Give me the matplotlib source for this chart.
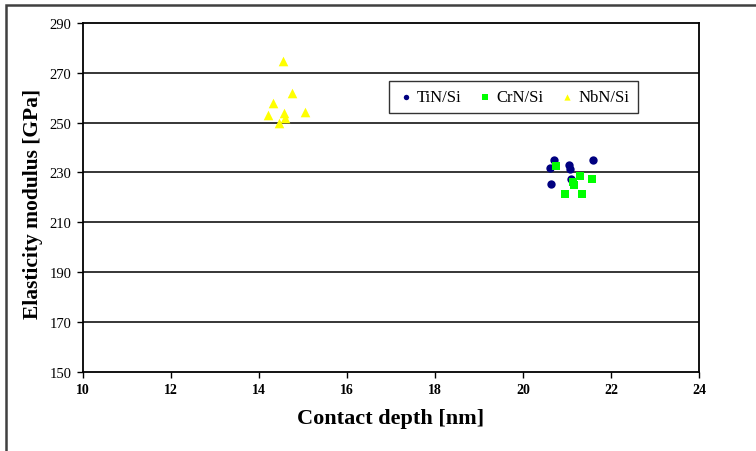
import matplotlib
matplotlib.use("Agg")
import matplotlib.pyplot as plt
from matplotlib.patches import Rectangle

# values
tin_depth = [20.71, 20.62, 21.05, 21.07, 21.59, 20.64, 21.10]
tin_modulus = [235.0, 231.6, 233.0, 231.5, 234.9, 225.2, 227.3]

crn_depth = [20.75, 21.29, 21.58, 21.14, 21.17, 20.95, 21.35]
crn_modulus = [232.6, 228.6, 227.5, 226.1, 224.9, 221.3, 221.3]

nbn_depth = [14.56, 14.75, 14.33, 14.20, 14.58, 14.60, 15.06, 14.46]
nbn_modulus = [274.9, 261.7, 258.0, 252.9, 253.9, 251.9, 254.2, 250.0]

x_ticks = [10, 12, 14, 16, 18, 20, 22, 24]
y_ticks = [150, 170, 190, 210, 230, 250, 270, 290]

plt.rcParams['font.family'] = ['Liberation Serif', 'DejaVu Serif']

fig = plt.figure(figsize=(7.56, 4.52), dpi=100, facecolor='white')
ax = fig.add_axes([82.7 / 756, 1 - 372.7 / 452, (699 - 82.7) / 756, (372.7 - 24) / 452])

# outer frame of the figure (open at right and bottom in the crop)
fig.add_artist(Rectangle((5.5 / 756, -0.1), 1.2, 1 - 6 / 452 + 0.1,
                         transform=fig.transFigure, fill=False,
                         edgecolor='#404040', linewidth=1.8))

for y in y_ticks[1:-1]:
    ax.axhline(y, color='black', linewidth=1.1, zorder=1)

ax.scatter(tin_depth, tin_modulus, marker='o', s=36, color='#000080',
           linewidths=0, label='TiN/Si', zorder=3)
ax.scatter(crn_depth, crn_modulus, marker='s', s=36, color='#00ff00',
           linewidths=0, label='CrN/Si', zorder=3)
ax.scatter(nbn_depth, nbn_modulus, marker='^', s=48, color='#ffff00',
           linewidths=0, label='NbN/Si', zorder=3)

ax.set_xlim(10, 24)
ax.set_ylim(150, 290)
ax.set_xticks(x_ticks)
ax.set_yticks(y_ticks)
ax.set_xticklabels([str(v) for v in x_ticks], fontweight='bold', fontsize=10)
ax.set_yticklabels([str(v) for v in y_ticks], fontsize=10.5)
ax.tick_params(direction='out', length=4, width=1, color='black', pad=4)

for side in ['left', 'bottom', 'right', 'top']:
    ax.spines[side].set_linewidth(1.3)
    ax.spines[side].set_color('black')

ax.set_xlabel('Contact depth [nm]', fontsize=16, fontweight='bold', labelpad=9)
ax.set_ylabel('Elasticity modulus [GPa]', fontsize=15.5, fontweight='bold',
              va='center')
ax.yaxis.set_label_coords(-0.0806, 0.485)

leg = ax.legend(loc='center', bbox_to_anchor=(513.5 / 756, 1 - 98 / 452),
                bbox_transform=fig.transFigure, ncol=3, fontsize=12,
                frameon=True, fancybox=False, edgecolor='black',
                handletextpad=0.2, columnspacing=0.9, handlelength=1.0,
                markerscale=0.65, borderpad=0.5)
leg.get_frame().set_linewidth(1.0)

fig.savefig('out.png', dpi=100, facecolor='white')
